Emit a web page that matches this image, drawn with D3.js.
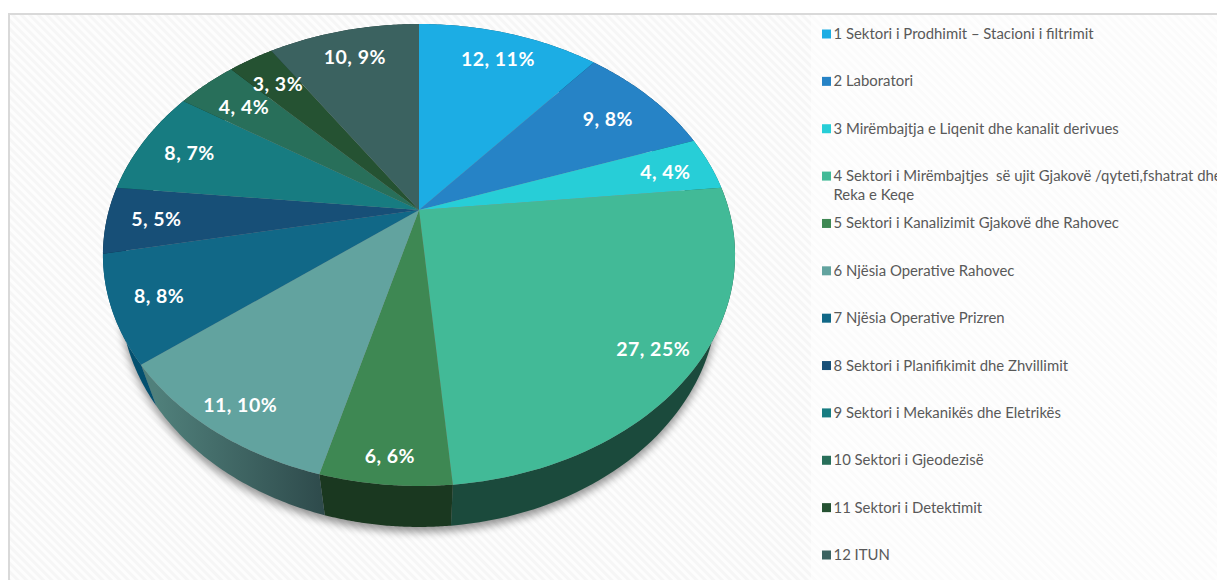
<!DOCTYPE html>
<html>
<head>
<meta charset="utf-8">
<script src="https://cdn.jsdelivr.net/npm/d3@7"></script>
<style>
html, body { margin: 0; padding: 0; background: #fff; overflow: hidden; }
svg { display: block; }
</style>
</head>
<body>
<svg id="chart" width="1217" height="580"></svg>
<script>
// values
let categories = [
    "1 Sektori i Prodhimit – Stacioni i filtrimit",
    "2 Laboratori",
    "3 Mirëmbajtja e Liqenit dhe kanalit derivues",
    "4 Sektori i Mirëmbajtjes  së ujit Gjakovë /qyteti,fshatrat dhe|Reka e Keqe",
    "5 Sektori i Kanalizimit Gjakovë dhe Rahovec",
    "6 Njësia Operative Rahovec",
    "7 Njësia Operative Prizren",
    "8 Sektori i Planifikimit dhe Zhvillimit",
    "9 Sektori i Mekanikës dhe Eletrikës",
    "10 Sektori i Gjeodezisë",
    "11 Sektori i Detektimit",
    "12 ITUN"
];
let values = [12, 9, 4, 27, 6, 11, 8, 5, 8, 4, 3, 10];
let percents = [11, 8, 4, 25, 6, 10, 8, 5, 7, 4, 3, 9];

let colors = ["#1cade4", "#2683c6", "#27ced7", "#42ba97", "#3e8853", "#62a39f",
              "#116887", "#174f77", "#177c81", "#286f5a", "#255232", "#3b6260"];
let sideColors = ["#0e566f", "#13415f", "#136769", "#1b4a3c", "#1a3820", "#2f4a4a",
                  "#03506f", "#0b2a40", "#0b3e40", "#143a2d", "#122919", "#1d3130"];
// how far along the radius each label sits (best fit in the original)
let labelRadius = [0.84, 0.80, 0.84, 0.87, 0.91, 0.895, 0.86, 0.845, 0.83, 0.81, 0.825, 0.84];

let svg = d3.select("#chart");
let defs = svg.append("defs");

let stripes = defs.append("pattern")
    .attr("id", "stripes")
    .attr("width", 6).attr("height", 6)
    .attr("patternUnits", "userSpaceOnUse")
    .attr("patternTransform", "rotate(45)");
stripes.append("rect").attr("width", 6).attr("height", 6).attr("fill", "#fdfdfd");
stripes.append("rect").attr("width", 6).attr("height", 3).attr("fill", "#f6f6f6");

defs.append("filter").attr("id", "blur")
    .attr("x", "-10%").attr("y", "-10%").attr("width", "120%").attr("height", "120%")
    .append("feGaussianBlur").attr("stdDeviation", 4);

let sideGrad = defs.append("linearGradient")
    .attr("id", "side6")
    .attr("gradientUnits", "userSpaceOnUse")
    .attr("x1", 155).attr("x2", 325).attr("y1", 0).attr("y2", 0);
sideGrad.append("stop").attr("offset", 0).attr("stop-color", "#50807b");
sideGrad.append("stop").attr("offset", 1).attr("stop-color", "#2e4a4b");

// panel
svg.append("rect")
    .attr("x", 9).attr("y", 14)
    .attr("width", 1220).attr("height", 580)
    .attr("fill", "url(#stripes)")
    .attr("stroke", "#d9d9d9")
    .attr("stroke-width", 2);

// legend box washes the stripes out a bit
svg.append("rect")
    .attr("x", 811).attr("y", 15)
    .attr("width", 406).attr("height", 565)
    .attr("fill", "#fff")
    .attr("opacity", 0.5);

// the pie is tilted, so the circle goes through a perspective projection
let cx = 419, cy = 210, tilt = 0.1948, radiusX = 310, radiusY = 222.2;
let depth = 41, bottomScale = 0.945;

function project(angle, r){
    let u = Math.sin(angle) * r,
        v = -Math.cos(angle) * r,
        w = 1 - tilt * v;
    return [cx + radiusX * u / w, cy + radiusY * v / w];
}
function projectBottom(angle){
    let p = project(angle, 1);
    return [cx + (p[0] - cx) * bottomScale, p[1] + depth];
}

let line = d3.line();

function rim(d, fn){
    let steps = d3.range(0, 61).map(function(i){ return i / 60; });
    let angle = d3.scaleLinear().domain([0, 1]).range([d.startAngle, d.endAngle]);
    return steps.map(function(t){ return fn(angle(t)); });
}
function topRim(a){ return project(a, 1); }

let arcs = d3.pie().sort(null)(values);

// shadow under the pie
let shadow = d3.range(0, 241).map(function(i){ return projectBottom(i / 240 * 2 * Math.PI); });
svg.append("path")
    .attr("d", line(shadow) + "Z")
    .attr("transform", "translate(0,5)")
    .attr("fill", "#000")
    .attr("opacity", 0.42)
    .attr("filter", "url(#blur)");

// side wall
svg.append("g").selectAll("path")
    .data(arcs)
    .join("path")
    .attr("d", function(d){
        return line(rim(d, topRim).concat(rim(d, projectBottom).reverse())) + "Z";
    })
    .attr("fill", function(d, i){ return i === 5 ? "url(#side6)" : sideColors[i]; });

// top face
svg.append("g").selectAll("path")
    .data(arcs)
    .join("path")
    .attr("d", function(d){
        return line([[cx, cy]].concat(rim(d, topRim))) + "Z";
    })
    .attr("fill", function(d, i){ return colors[i]; });

// data labels
svg.append("g").selectAll("text")
    .data(arcs)
    .join("text")
    .attr("transform", function(d, i){
        let p = project((d.startAngle + d.endAngle) / 2, labelRadius[i]);
        return "translate(" + (p[0] + 1) + "," + (p[1] + 0.5) + ")";
    })
    .attr("text-anchor", "middle")
    .attr("dominant-baseline", "central")
    .attr("font-family", "Lato")
    .attr("font-weight", 700)
    .attr("font-size", 19.5)
    .attr("letter-spacing", 0.5)
    .attr("fill", "#fff")
    .text(function(d, i){ return values[i] + ", " + percents[i] + "%"; });

// legend
let legendY = d3.scalePoint().domain(categories).range([34, 555]);
let legend = svg.append("g").selectAll("g")
    .data(categories)
    .join("g")
    .attr("transform", function(d){ return "translate(822," + legendY(d) + ")"; });

legend.append("rect")
    .attr("x", 0).attr("y", -4.5)
    .attr("width", 9).attr("height", 9)
    .attr("fill", function(d, i){ return colors[i]; });

legend.each(function(d){
    let lines = d.split("|");
    d3.select(this).selectAll("text")
        .data(lines)
        .join("text")
        .attr("x", 11.5)
        .attr("y", function(t, j){ return j * 19 - 1; })
        .attr("dominant-baseline", "central")
        .attr("font-family", "Lato")
        .attr("font-size", 14.9)
        .attr("fill", "#595959")
        .style("white-space", "pre")
        .text(function(t){ return t; });
});
</script>
</body>
</html>
